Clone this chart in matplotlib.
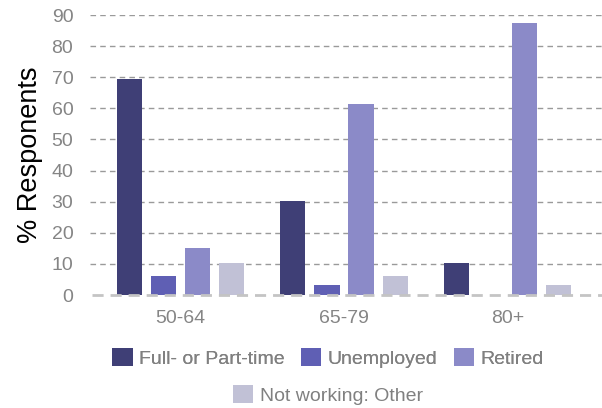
import numpy as np
import matplotlib.pyplot as plt
from matplotlib.patches import Patch

plt.rcParams['font.family'] = ['Liberation Sans', 'DejaVu Sans']

age_groups = ["50-64", "65-79", "80+"]
status = ["Full- or Part-time", "Unemployed", "Retired", "Not working: Other"]
full_part = [69.4, 30.2, 10.3]
unemployed = [6.1, 3.2, 0.0]
retired = [15.1, 61.4, 87.4]
other = [10.3, 6.1, 3.2]
colors = ["#3f3f76", "#5f5fb4", "#8b8ac8", "#c1c1d6"]

series = [full_part, unemployed, retired, other]

fig = plt.figure(figsize=(6.02, 4.08), dpi=100)
ax = fig.add_axes([90 / 602, 113 / 408, 512 / 602, 280 / 408])

x = np.arange(len(age_groups))
step = 0.208
width = 0.153
for i, (vals, col) in enumerate(zip(series, colors)):
    ax.bar(x + (i - 1.5) * step, vals, width=width, color=col, zorder=2)

ax.set_xlim(-0.5535, 2.578)
ax.set_ylim(0, 90)
ax.set_yticks(range(0, 91, 10))
ax.set_xticks(x)
ax.set_xticklabels(age_groups)

# dashed gridlines, plus a heavier dashed baseline drawn over the bars
for y in range(10, 91, 10):
    ax.axhline(y, color="#9a9a9a", lw=1.0, ls=(0, (4, 3)), zorder=1)
ax.plot([-0.54, 2.578], [0, 0], color="#c4c4c4", lw=2.0, ls=(0, (4, 2.5)),
        zorder=3, clip_on=False)

for s in ax.spines.values():
    s.set_visible(False)
ax.tick_params(axis="both", length=0, labelsize=14, labelcolor="#858585")
ax.tick_params(axis="y", pad=12)
ax.tick_params(axis="x", pad=11)
ax.set_ylabel("% Responents", fontsize=19.5, color="black", labelpad=6)

leg_kw = dict(frameon=False, fontsize=14, handlelength=1.03, handleheight=1.03,
              handletextpad=0.33, columnspacing=0.85, labelcolor="#808080",
              borderaxespad=0, borderpad=0)
row1 = [Patch(facecolor=c) for c in colors[:3]]
leg1 = fig.legend(row1, status[:3], ncol=3, loc="center",
                  bbox_to_anchor=(328 / 602, 1 - 358 / 408), **leg_kw)
fig.add_artist(leg1)
fig.legend([Patch(facecolor=colors[3])], [status[3]], ncol=1, loc="center",
           bbox_to_anchor=(328 / 602, 1 - 395 / 408), **leg_kw)

fig.savefig("out.png", dpi=100)
